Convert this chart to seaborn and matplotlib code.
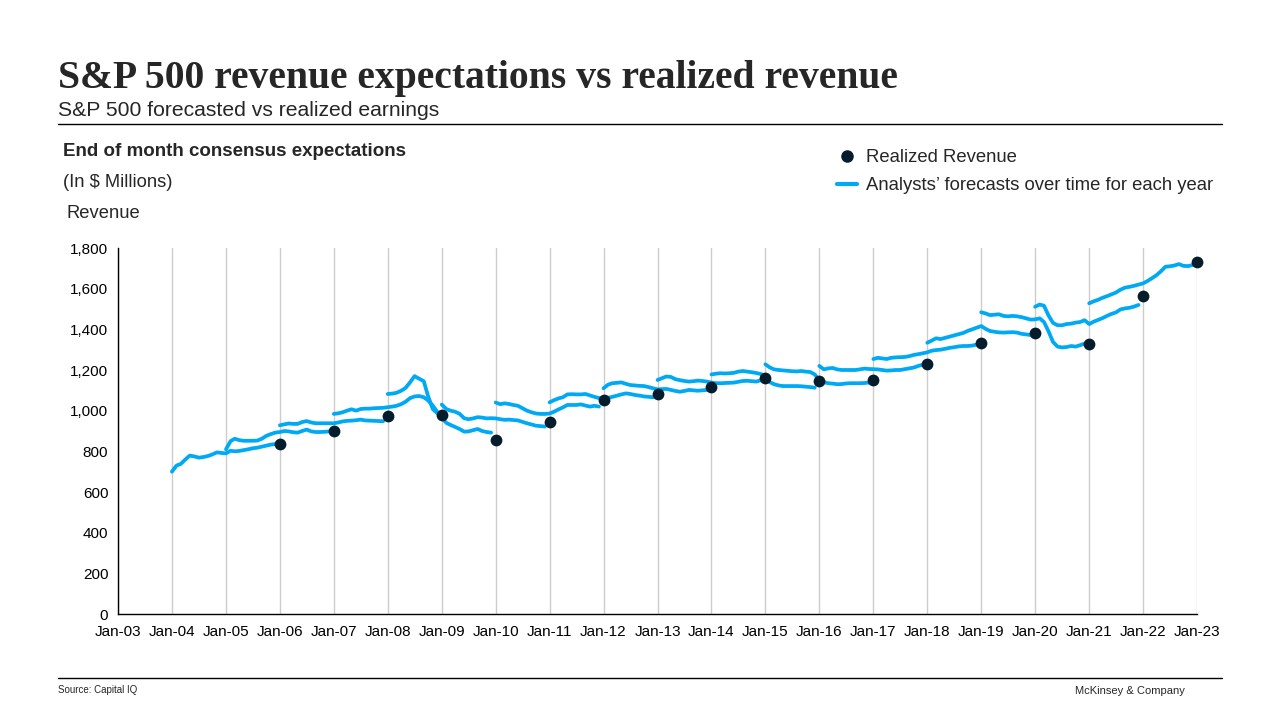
import matplotlib
matplotlib.use('Agg')
import matplotlib.pyplot as plt
import matplotlib.dates as mdates
from matplotlib.lines import Line2D
from matplotlib.ticker import FuncFormatter
import seaborn as sns
import pandas as pd

# analysts' monthly consensus for each fiscal year,
# from Jan of the year before to Dec of the fiscal year ($ millions)
fy2005 = [700, 730, 738, 760, 779, 775, 769, 772, 777, 785, 795, 792,
          790, 803, 800, 802, 806, 810, 815, 818, 823, 828, 833, 836]
fy2006 = [810, 850, 862, 855, 852, 852, 852, 853, 862, 876, 885, 892,
          895, 900, 898, 894, 892, 900, 907, 898, 895, 895, 896, 898]
fy2007 = [928, 933, 937, 935, 935, 944, 949, 942, 938, 938, 938, 938,
          938, 942, 947, 950, 951, 953, 956, 952, 951, 950, 949, 948]
fy2008 = [984, 987, 992, 1000, 1007, 1000, 1008, 1010, 1010, 1012, 1013, 1014,
          1017, 1020, 1024, 1032, 1044, 1062, 1070, 1072, 1066, 1050, 1025, 995]
fy2009 = [1082, 1084, 1088, 1098, 1112, 1140, 1170, 1157, 1145, 1070, 1008, 988,
          965, 940, 930, 920, 910, 897, 898, 904, 910, 900, 895, 892]
fy2010 = [1030, 1008, 1000, 995, 985, 963, 958, 962, 968, 966, 962, 963,
          962, 958, 955, 956, 954, 952, 945, 938, 932, 926, 924, 922]
fy2011 = [1040, 1032, 1036, 1033, 1028, 1024, 1012, 1000, 992, 986, 984, 984,
          986, 995, 1006, 1016, 1028, 1028, 1028, 1031, 1025, 1020, 1024, 1020]
fy2012 = [1041, 1052, 1060, 1066, 1080, 1081, 1080, 1080, 1082, 1075, 1068, 1062,
          1060, 1063, 1068, 1074, 1080, 1085, 1082, 1077, 1074, 1070, 1068, 1066]
fy2013 = [1110, 1128, 1135, 1137, 1139, 1132, 1126, 1124, 1122, 1121, 1116, 1110,
          1105, 1106, 1107, 1102, 1097, 1093, 1097, 1102, 1100, 1098, 1100, 1102]
fy2014 = [1151, 1160, 1168, 1166, 1155, 1150, 1146, 1143, 1145, 1148, 1146, 1143,
          1138, 1135, 1135, 1136, 1137, 1138, 1142, 1146, 1147, 1145, 1143, 1150]
fy2015 = [1178, 1182, 1184, 1183, 1184, 1186, 1192, 1195, 1192, 1189, 1185, 1180,
          1170, 1140, 1130, 1124, 1121, 1121, 1121, 1121, 1120, 1118, 1116, 1113]
fy2016 = [1228, 1212, 1203, 1200, 1198, 1196, 1194, 1193, 1195, 1192, 1190, 1178,
          1150, 1140, 1135, 1133, 1130, 1131, 1134, 1135, 1135, 1135, 1136, 1138]
fy2017 = [1220, 1203, 1208, 1210, 1203, 1200, 1200, 1200, 1200, 1203, 1207, 1205,
          1204, 1203, 1200, 1197, 1198, 1200, 1200, 1204, 1208, 1212, 1220, 1226]
fy2018 = [1254, 1260, 1257, 1254, 1260, 1262, 1263, 1264, 1268, 1274, 1278, 1282,
          1287, 1295, 1298, 1300, 1304, 1309, 1312, 1316, 1318, 1318, 1320, 1325]
fy2019 = [1334, 1345, 1356, 1352, 1358, 1364, 1370, 1376, 1382, 1392, 1400, 1408,
          1416, 1402, 1392, 1388, 1385, 1384, 1385, 1386, 1384, 1378, 1375, 1372]
fy2020 = [1484, 1478, 1470, 1472, 1474, 1466, 1464, 1466, 1464, 1460, 1454, 1448,
          1449, 1454, 1436, 1390, 1338, 1315, 1311, 1313, 1318, 1315, 1322, 1330]
fy2021 = [1511, 1522, 1516, 1468, 1432, 1420, 1420, 1426, 1428, 1433, 1436, 1445,
          1426, 1438, 1446, 1455, 1466, 1476, 1483, 1498, 1503, 1506, 1512, 1520]
fy2022 = [1528, 1538, 1545, 1555, 1563, 1572, 1581, 1595, 1605, 1609, 1614, 1620,
          1626, 1638, 1651, 1666, 1685, 1708, 1710, 1714, 1721, 1712, 1711, 1716]

fiscal_years = list(range(2005, 2023))
forecasts = [fy2005, fy2006, fy2007, fy2008, fy2009, fy2010, fy2011, fy2012, fy2013,
             fy2014, fy2015, fy2016, fy2017, fy2018, fy2019, fy2020, fy2021, fy2022]

# realized revenue, plotted at Jan after each fiscal year
realized_dates = ['2006-01-01', '2007-01-01', '2008-01-01', '2009-01-01', '2010-01-01',
                  '2011-01-01', '2012-01-01', '2013-01-01', '2014-01-01', '2015-01-01',
                  '2016-01-01', '2017-01-01', '2018-01-01', '2019-01-01', '2020-01-01',
                  '2021-01-01', '2022-01-01', '2023-01-01']
realized_values = [836, 901, 974, 980, 856, 944, 1052, 1082, 1118, 1162,
                   1147, 1150, 1229, 1334, 1384, 1328, 1564, 1731]

y_ticks = [0, 200, 400, 600, 800, 1000, 1200, 1400, 1600, 1800]

BLUE = '#00A9F4'
NAVY = '#051C2C'

parts = []
for fy, vals in zip(fiscal_years, forecasts):
    dates = pd.date_range(f'{fy - 1}-01-01', periods=len(vals), freq='MS')
    parts.append(pd.DataFrame({'date': dates, 'value': vals, 'fy': fy}))
df = pd.concat(parts, ignore_index=True)
real = pd.DataFrame({'date': pd.to_datetime(realized_dates), 'value': realized_values})

sns.set_style('white')
plt.rcParams['font.family'] = ['Liberation Sans', 'DejaVu Sans']

fig = plt.figure(figsize=(12.8, 7.2), dpi=100)
ax = fig.add_axes([118 / 1280, 1 - 614 / 720, (1197 - 118) / 1280, (614 - 248) / 720])

sns.lineplot(data=df, x='date', y='value', units='fy', estimator=None,
             color=BLUE, linewidth=2.7, ax=ax, legend=False)
sns.scatterplot(data=real, x='date', y='value', color=NAVY, s=72,
                linewidth=0, ax=ax, zorder=5, clip_on=False)

ax.set_xlim(pd.Timestamp('2003-01-01'), pd.Timestamp('2023-01-01'))
ax.set_ylim(0, 1800)
ax.set_yticks(y_ticks)
ax.yaxis.set_major_formatter(FuncFormatter(lambda v, p: f'{int(v):,}'))
ax.xaxis.set_major_locator(mdates.YearLocator())
ax.xaxis.set_major_formatter(mdates.DateFormatter('%b-%y'))
ax.set_xlabel('')
ax.set_ylabel('')
ax.tick_params(axis='both', length=0, labelsize=11, colors='black')
ax.tick_params(axis='x', pad=8)
ax.tick_params(axis='y', pad=7)
ax.grid(axis='x', color='#CCCCCC', linewidth=1)
ax.grid(axis='y', visible=False)
sns.despine(ax=ax, top=True, right=True)
for side in ['left', 'bottom']:
    ax.spines[side].set_color('black')
    ax.spines[side].set_linewidth(1)

# header
fig.text(58 / 1280, 1 - 88 / 720, 'S&P 500 revenue expectations vs realized revenue',
         family=['Liberation Serif'], weight='bold', fontsize=28.5, va='baseline')
fig.text(58 / 1280, 1 - 116 / 720, 'S&P 500 forecasted vs realized earnings',
         fontsize=15.2, va='baseline')
fig.add_artist(Line2D([58 / 1280, 1222 / 1280], [1 - 124 / 720] * 2,
                      color='black', lw=1, transform=fig.transFigure))
fig.text(63 / 1280, 1 - 156 / 720, 'End of month consensus expectations',
         fontsize=13.5, weight='bold', va='baseline')
fig.text(63 / 1280, 1 - 187 / 720, '(In $ Millions)', fontsize=13.2, va='baseline')
fig.text(67 / 1280, 1 - 218 / 720, 'Revenue', fontsize=13.2, va='baseline')

handles = [Line2D([], [], marker='o', color=NAVY, ls='', markersize=8),
           Line2D([], [], color=BLUE, lw=3)]
fig.legend(handles, ['Realized Revenue', 'Analysts\u2019 forecasts over time for each year'],
           loc='upper left', bbox_to_anchor=(837 / 1280, 1 - 149 / 720), frameon=False,
           fontsize=13.3, handlelength=1.1, handletextpad=0.45, labelspacing=0.6,
           borderaxespad=0, borderpad=0)

# footer
fig.add_artist(Line2D([58 / 1280, 1222 / 1280], [1 - 678 / 720] * 2,
                      color='black', lw=1, transform=fig.transFigure))
fig.text(58 / 1280, 1 - 693 / 720, 'Source: Capital IQ', fontsize=7, va='baseline')
fig.text(1185 / 1280, 1 - 694 / 720, 'McKinsey & Company', fontsize=8,
         ha='right', va='baseline')

fig.savefig('out.png', dpi=100)
